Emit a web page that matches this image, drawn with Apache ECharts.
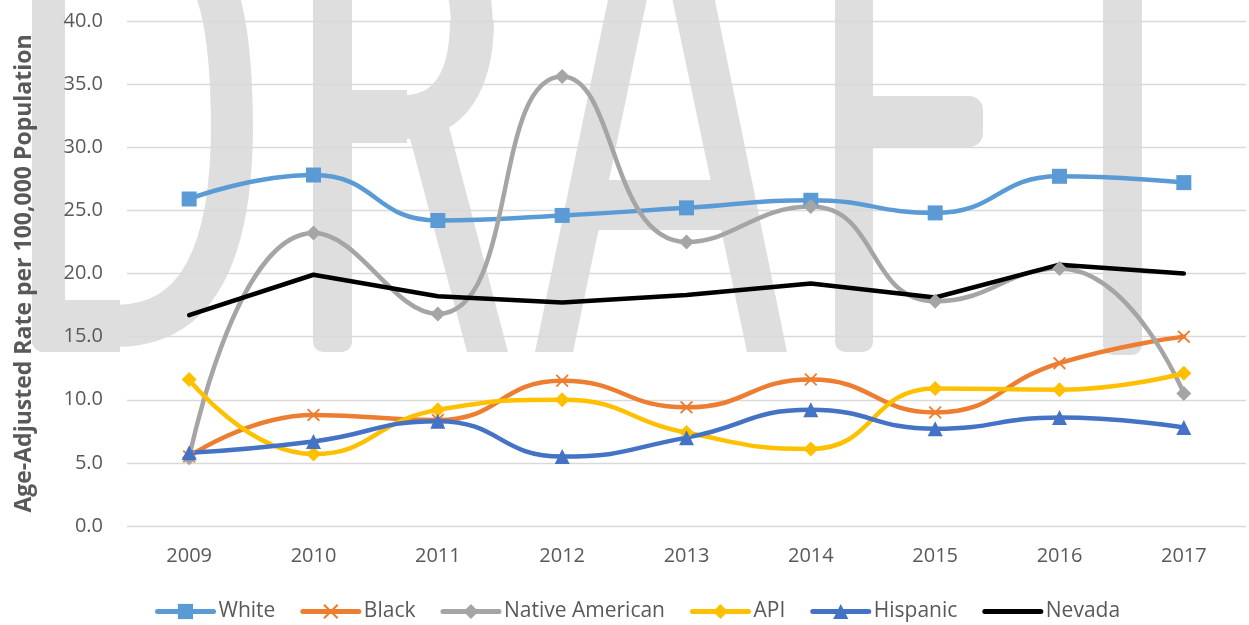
<!DOCTYPE html>
<html>
<head>
<meta charset="utf-8">
<title>Age-Adjusted Rate per 100,000 Population</title>
<script src="https://cdn.jsdelivr.net/npm/echarts@6/dist/echarts.min.js"></script>
<style>
  html, body { margin: 0; padding: 0; background: #fff; }
  #main { width: 1249px; height: 625px; }
</style>
</head>
<body>
<div id="main"></div>
<script>
  // data
  const years = ['2009', '2010', '2011', '2012', '2013', '2014', '2015', '2016', '2017'];
  const white = [25.9, 27.8, 24.2, 24.6, 25.2, 25.8, 24.8, 27.7, 27.2];
  const black = [5.5, 8.8, 8.4, 11.5, 9.4, 11.6, 9.0, 12.9, 15.0];
  const nativeAmerican = [5.4, 23.2, 16.8, 35.6, 22.5, 25.3, 17.8, 20.4, 10.5];
  const api = [11.6, 5.7, 9.2, 10.0, 7.4, 6.1, 10.9, 10.8, 12.1];
  const hispanic = [5.8, 6.7, 8.3, 5.5, 7.0, 9.2, 7.7, 8.6, 7.8];
  const nevada = [16.7, 19.9, 18.2, 17.7, 18.3, 19.2, 18.1, 20.7, 20.0];

  const FONT = 'Open Sans';
  const TXT = '#595959';
  const WM = '#dedede';
  const crossPath = 'path://M0,1L1,0L5,4L9,0L10,1L6,5L10,9L9,10L5,6L1,10L0,9L4,5Z';

  let myChart = echarts.init(document.getElementById('main'), null, { renderer: 'canvas' });

  // the big "DRAFT" watermark, drawn as plain shapes behind the plot
  function wmCurve(x1, y1, c1x, c1y, c2x, c2y, x2, y2, w) {
    return {
      type: 'bezierCurve',
      z: -10,
      silent: true,
      shape: { x1: x1, y1: y1, cpx1: c1x, cpy1: c1y, cpx2: c2x, cpy2: c2y, x2: x2, y2: y2 },
      style: { stroke: WM, lineWidth: w, fill: null },
    };
  }
  function wmRect(x, y, w, h, r) {
    return { type: 'rect', z: -10, silent: true, shape: { x: x, y: y, width: w, height: h, r: r }, style: { fill: WM } };
  }
  function wmPoly(pts) {
    return { type: 'polygon', z: -10, silent: true, shape: { points: pts }, style: { fill: WM } };
  }
  const watermark = [
    // D
    wmRect(32, -120, 33, 472, [0, 0, 0, 12]),
    wmRect(32, 300, 88, 52, [0, 0, 0, 12]),
    wmCurve(115, 326, 200, 326, 232, 250, 232, 125, 42),
    wmCurve(232, 135, 232, -10, 210, -80, 115, -80, 42),
    // R
    wmRect(313, -120, 39, 472, [0, 0, 10, 10]),
    wmRect(345, 90, 62, 53, 0),
    wmCurve(405, 117, 450, 117, 472, 80, 472, 20, 44),
    wmCurve(472, 30, 472, -30, 450, -66, 407, -66, 42),
    wmPoly([[405, 120], [445, 112], [508, 352], [467, 352]]),
    // A
    wmPoly([[535, 352], [627, -92], [666, -92], [573, 352]]),
    wmPoly([[653, -92], [696, -92], [787, 352], [747, 352]]),
    wmRect(590, 180, 140, 50, 0),
    // F
    wmRect(835, -120, 38, 472, [0, 0, 10, 10]),
    wmRect(835, 96, 148, 51, [0, 14, 14, 0]),
    // T
    wmRect(1103, -120, 39, 475, [0, 0, 10, 10]),
  ];

  function series(name, data, color, symbol, size, smooth) {
    return {
      name: name,
      type: 'line',
      data: data,
      smooth: smooth,
      symbol: symbol,
      symbolSize: size,
      lineStyle: { color: color, width: 4.5, cap: 'round', join: 'round' },
      itemStyle: { color: color },
      emphasis: { disabled: true },
    };
  }

  let nevadaSeries = series('Nevada', nevada, '#000000', 'circle', 1, false);
  nevadaSeries.showSymbol = false;

  let option = {
    animation: false,
    textStyle: { fontFamily: FONT },
    graphic: { elements: watermark },
    grid: { left: 127, right: 3, top: 21, bottom: 99 },
    legend: {
      top: 596,
      left: 150,
      itemWidth: 56,
      itemHeight: 19,
      itemGap: 25,
      lineStyle: { width: 5 },
      textStyle: { fontSize: 21, color: TXT, fontFamily: FONT },
      data: [
        'White',
        'Black',
        'Native American',
        'API',
        'Hispanic',
        // plain line in the legend, like the series itself
        { name: 'Nevada', itemStyle: { opacity: 0 } },
      ],
    },
    xAxis: {
      type: 'category',
      data: years,
      boundaryGap: true,
      axisLine: { show: false },
      axisTick: { show: false },
      axisLabel: { fontSize: 20, color: TXT, margin: 20 },
    },
    yAxis: {
      type: 'value',
      min: 0,
      max: 40,
      interval: 5,
      name: 'Age-Adjusted Rate per 100,000 Population',
      nameLocation: 'middle',
      nameGap: 91,
      nameTextStyle: { fontSize: 23, fontWeight: 'bold', color: TXT },
      axisLine: { show: false },
      axisTick: { show: false },
      axisLabel: {
        fontSize: 20,
        color: TXT,
        margin: 24,
        formatter: (v) => v.toFixed(1),
      },
      splitLine: { lineStyle: { color: '#d9d9d9', width: 1.3 } },
    },
    series: [
      series('White', white, '#5B9BD5', 'rect', 15, 0.5),
      series('Black', black, '#ED7D31', crossPath, 13, 0.5),
      series('Native American', nativeAmerican, '#A5A5A5', 'diamond', 15, 0.5),
      series('API', api, '#FFC000', 'diamond', 15, 0.5),
      series('Hispanic', hispanic, '#4472C4', 'triangle', 15, 0.5),
      nevadaSeries,
    ],
  };

  myChart.setOption(option);
</script>
</body>
</html>
